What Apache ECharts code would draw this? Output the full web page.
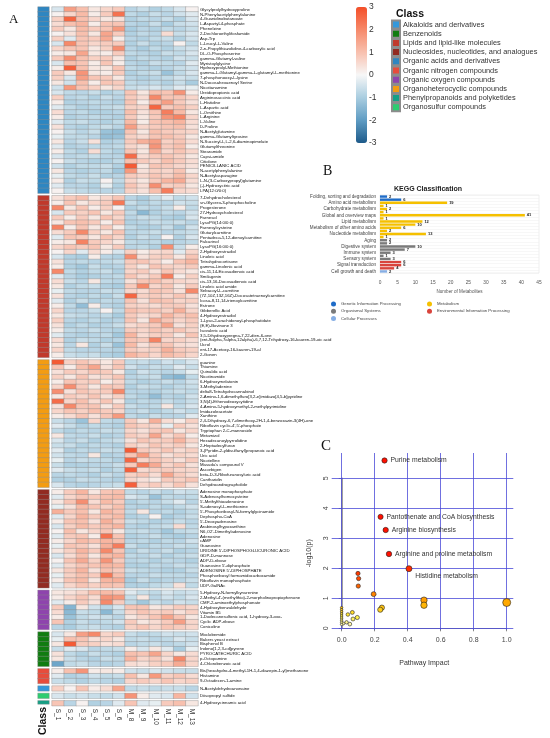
<!DOCTYPE html>
<html>
<head>
<meta charset="utf-8">
<script src="https://cdn.jsdelivr.net/npm/echarts@6/dist/echarts.min.js"></script>
<style>
html, body { margin: 0; padding: 0; background: #fff; }
#chart { width: 550px; height: 738px; }
</style>
</head>
<body>
<div id="chart"></div>
<script>
// ---- panel A : heatmap data ----
var samples = ['S_1', 'S_2', 'S_3', 'S_4', 'S_5', 'S_6', 'M_8', 'M_9', 'M_10', 'M_11', 'M_12', 'M_13'];

var classNames = ['Alkaloids and derivatives', 'Benzenoids', 'Lipids and lipid-like molecules',
    'Nucleosides, nucleotides, and analogues', 'Organic acids and derivatives', 'Organic nitrogen compounds',
    'Organic oxygen compounds', 'Organoheterocyclic compounds', 'Phenylpropanoids and polyketides',
    'Organosulfur compounds'];
var classColors = ['#3498db', '#107c10', '#c0392b', '#922b21', '#2e86c1', '#e74c3c', '#8e44ad', '#f39c12', '#16a085', '#2ecc71'];

var g1Names = ['Glycylprolylhydroxyproline', 'N-Phenylacetylphenylalanine', '4-Guanidinobutanoate', 'L-Aspartyl-4-phosphate',
    'Phenelzine', '2-Dechloroethylifosfamide', 'Asp-Trp', 'L-Leucyl-L-Valine', '2-n-Propylthiazolidine-4-carboxylic acid',
    'DL-O-Phosphoserine', 'gamma-Glutamyl-valine', 'Myristoylglycine', 'Hydroxyprolyl-Methionine',
    'gamma-L-Glutamyl-gamma-L-glutamyl-L-methionine', '7-phosphonooxy-L-lysine', 'N-Docosahexaenoyl Serine',
    'Nicotianamine', 'Ureidopropionic acid', 'Argininosuccinic acid', 'L-Histidine', 'L-Aspartic acid', 'L-Ornithine',
    'L-Arginine', 'L-Valine', 'D-Proline', 'N-Acetylglutamine', 'gamma-Glutamyltyrosine',
    'N-Succinyl-L,L-2,6-diaminopimelate', 'Glutamylthreonine', 'Stearamide', 'Capsi-amide', 'Citiolone',
    'PENICILLANIC ACID', 'N-acetylphenylalanine', 'N-Acetylasparagine', 'L-N-(3-Carboxypropyl)glutamine',
    '(-)-Hydroxycitric acid', 'LPA(12:0/0:0)'];
var g1Values = [
    [-0.4, 1.6, 1.0, 0.3, 0.6, 0.8, -0.8, -0.6, -0.9, -0.7, -0.4, 0.1],
    [0.1, 0.6, 1.1, 0.2, 0.8, 2.4, -0.7, -0.9, -0.6, -0.8, -0.5, -0.3],
    [0.7, 2.6, 1.0, 0.6, 0.3, 0.4, -0.9, -0.7, -0.8, -0.6, -0.9, -0.4],
    [0.5, 1.0, 1.2, 0.2, 0.9, 0.9, -0.8, -0.9, -0.6, -1.0, -0.6, -0.5],
    [0.8, 0.3, 1.1, 0.8, 0.9, 1.7, -1.0, -0.8, -0.9, -0.7, -0.8, -0.6],
    [0.1, 0.4, 1.0, 0.3, 1.5, 0.8, -0.9, -0.7, -0.8, 0.5, -0.6, -0.4],
    [0.7, -0.3, 0.9, 0.8, 1.4, 0.2, -0.8, -0.9, -0.7, -0.6, -0.9, -0.5],
    [-0.4, 2.0, 0.9, 0.6, 0.8, 0.8, -0.9, -0.6, -0.9, -0.8, 0.1, -0.7],
    [0.6, 0.9, 0.9, 0.3, 0.7, 1.9, -0.8, -1.0, -0.7, -0.9, -0.6, -0.5],
    [0.2, 0.3, 1.5, 0.3, 0.2, 0.8, -0.7, -0.8, -0.9, -0.6, -0.7, -0.4],
    [0.8, 1.9, 1.0, 0.7, 0.8, 0.3, -0.9, -0.7, -0.8, -0.9, -0.5, -0.6],
    [-0.4, 1.0, 0.9, 0.2, 0.9, 0.2, -0.8, -0.9, -0.6, -0.7, -0.8, -0.3],
    [0.2, 2.7, 1.0, 0.3, 0.3, 0.9, -0.7, -0.8, -0.9, -0.8, -0.6, -0.5],
    [0.8, 0.3, 1.8, 0.3, 0.2, 0.8, -0.9, -0.7, -0.6, -1.2, -0.7, -0.4],
    [0.7, -0.4, 1.6, 0.9, 0.8, 0.3, -0.8, -0.9, -0.8, -0.7, -0.5, -0.6],
    [0.3, -0.5, 1.0, 0.2, 0.9, 0.8, -0.7, -0.8, -0.7, -0.9, -0.6, -1.0],
    [-0.5, 1.7, 0.9, 0.7, 0.3, 0.6, -0.6, -0.5, -0.4, -0.6, -0.3, -0.2],
    [-0.4, -0.7, -0.8, -0.6, -0.9, -0.7, 0.9, 0.3, 1.0, 0.9, 1.8, 0.2],
    [0.7, -0.8, -0.7, -0.9, -0.6, -0.8, 0.8, 0.5, 2.0, 0.9, 0.9, 0.6],
    [0.2, -0.9, -0.8, -0.7, -0.8, -0.9, 0.9, 0.2, 1.0, 1.6, 0.8, 0.4],
    [-0.3, -0.7, -0.9, -0.8, -0.7, -0.6, 0.7, 0.6, 2.6, 0.8, 1.0, 0.7],
    [0.5, -0.8, -0.7, -0.9, -0.9, -0.8, 1.0, 0.4, 0.9, 2.2, 1.1, 0.3],
    [0.2, -0.9, -0.8, -0.7, -0.8, -0.9, 0.8, 0.3, 0.8, 1.8, 2.1, 0.6],
    [-0.3, -0.7, -0.6, -0.8, -0.9, -0.7, 1.1, 0.2, 0.9, 1.0, 1.2, 0.5],
    [0.4, -0.8, -0.9, -0.7, -0.6, -0.8, 1.6, 0.6, 0.8, 0.9, 1.0, 0.4],
    [0.1, -0.6, -0.8, -0.6, -1.2, -1.3, 0.9, 0.3, 1.0, 0.8, 0.7, 0.6],
    [-0.2, -0.7, -0.7, -0.8, -1.3, -1.2, 0.7, 0.5, 0.9, 1.0, 0.8, 0.3],
    [0.3, -0.8, -0.6, 0.4, -0.9, -0.8, 0.8, 1.3, 1.6, 0.7, 0.9, 0.5],
    [-0.3, -0.9, -0.8, -0.7, -0.8, -0.7, 0.6, 0.4, 1.8, 0.8, 1.0, 0.2],
    [0.2, -0.7, -0.9, 0.5, -0.7, -0.9, 0.9, 0.3, 1.3, 0.6, 0.9, 0.6],
    [-0.4, -0.8, -0.7, -0.6, -0.8, -0.8, 2.5, 0.5, 0.8, 0.9, 0.7, 0.3],
    [0.1, -0.6, -0.8, -0.9, -0.9, -0.7, 1.0, 0.8, 0.6, 1.0, 0.8, 0.5],
    [-0.5, -0.9, -0.7, -0.7, -0.6, -0.9, 2.8, 0.3, 0.9, 0.8, 0.6, 0.4],
    [0.3, -0.8, -0.9, -0.8, -0.7, -1.1, 1.7, 0.4, 0.7, 0.6, 0.9, 0.2],
    [-0.2, -0.7, -0.8, -0.6, -0.9, -0.8, 0.8, 0.6, 0.9, 0.7, 1.1, 0.6],
    [0.2, -0.9, -0.6, -0.7, 0.1, -0.7, 0.6, 0.3, 0.8, 1.2, 1.4, 0.5],
    [-0.3, -0.8, -0.8, -0.9, -0.2, -0.9, 0.9, 0.5, 1.9, 0.7, 0.8, 0.3],
    [0.1, -0.6, -0.7, -0.8, -0.8, -0.8, 0.7, 0.4, 1.0, 2.2, 0.6, 0.5]
];

var g2Names = ['7-Dehydrocholesterol', 'sn-Glycero-3-phosphocholine', 'Progesterone', '27-Hydroxycholesterol', 'Farnesol',
    'LysoPG(14:0/0:0)', 'Farnesylcysteine', 'Glutarylcarnitine', 'Pentadeca-5,12-dienoylcarnitine', 'Falcarinol',
    'LysoPG(16:0/0:0)', '2-Hydroxyestradiol', 'Linoleic acid', 'Tetrahydrocortisone', 'gamma-Linolenic acid',
    'cis-11,14-Eicosadienoic acid', 'Smilagenin', 'cis-13,16-Docosadienoic acid', 'Linoleic acid amide',
    'Sebacoyl-L-carnitine', '(7Z,10Z,13Z,16Z)-Docosatetraenoylcarnitine', 'Icosa-8,11,14-trienoylcarnitine', 'Estrone',
    'Gibberellic Acid', '4-Hydroxyestradiol', '1-Lyso-2-arachidonoyl-phosphatidate', '(E,E)-Bovinone 3',
    'Isovaleric acid', '3,5-Dihydroxypregna-7,22-dien-6-one',
    '(ent-9alpha,7alpha,12alpha)-6,7,12-Trihydroxy-16-kauren-19-oic acid', 'Ucrol',
    'ent-17-Acetoxy-16-kauren-19-al', '2-Gonen'];
var g2Values = [
    [0.4, 0.8, 1.0, 0.3, 0.6, 0.9, -0.8, -1.0, -0.6, -0.3, -0.7, -0.5],
    [0.2, 0.9, 0.3, 0.6, 0.8, 2.3, -0.6, -0.9, -0.7, -0.8, -0.5, -0.6],
    [2.0, 0.3, 0.9, 0.2, 0.7, 0.1, -0.9, -0.7, -0.8, -0.6, 0.2, -0.7],
    [-0.4, 0.8, 0.7, 0.9, 0.3, 0.8, -0.7, -1.4, -0.9, -0.7, -0.8, -0.5],
    [0.8, 0.2, 0.8, 0.3, 0.9, 0.6, -0.8, -0.6, -0.7, -0.9, -1.0, -0.4],
    [0.3, 0.9, 1.0, 0.8, 0.2, 0.9, -0.9, -0.8, -0.6, -0.7, -0.6, -0.8],
    [2.1, 0.2, 0.9, 0.3, 0.8, 0.2, -0.7, -0.9, -0.9, -0.6, -1.1, -0.5],
    [0.5, 0.8, 2.0, 0.7, 0.3, 0.9, -0.8, -0.7, -0.6, -0.8, -0.7, -0.6],
    [-0.3, 0.9, 0.8, 0.3, 0.9, 0.6, -0.9, -0.6, -0.8, 0.1, -0.9, -0.4],
    [0.2, 0.3, 2.1, 0.8, 0.6, 0.3, -0.7, -0.8, -0.7, -0.9, -0.8, -0.7],
    [0.6, 0.9, 0.8, 0.9, 0.3, 0.8, -0.8, -0.7, -0.9, 1.9, -0.6, 0.2],
    [0.1, 0.6, -0.3, 0.5, 0.2, -0.4, 0.7, 0.2, 0.5, 0.6, -0.3, 0.6],
    [-0.4, -0.9, -1.0, 0.2, -0.8, -0.9, 1.9, 0.4, 0.7, 0.8, 0.3, 0.9],
    [0.4, -0.8, -0.7, -0.8, -0.7, -0.6, 0.8, 0.9, 0.6, 0.2, 0.9, 1.2],
    [0.2, -0.9, -1.1, -0.6, -0.9, -0.8, 0.7, 0.3, 0.9, 0.7, 0.6, 0.8],
    [2.0, -0.7, -0.9, -0.7, -0.6, -0.9, 0.6, 0.8, 0.4, 0.9, 0.5, 0.3],
    [-0.3, -0.8, -1.0, -0.9, -0.8, -0.7, 0.9, 0.5, 0.8, 2.2, 0.2, 0.7],
    [0.5, -0.6, -0.8, 0.3, -0.7, -0.8, 0.4, 0.9, 1.0, 0.7, 0.6, 0.5],
    [0.3, -0.9, -0.7, -0.6, -0.9, -1.0, 0.8, 2.0, 0.6, 0.9, 0.3, 0.8],
    [-0.2, -0.7, -0.8, -0.8, -0.6, -0.7, 0.6, 0.5, 0.9, 0.8, 0.4, 2.0],
    [0.4, -0.8, -0.9, -0.7, -0.9, -0.6, 2.6, 0.7, 0.8, 0.6, 0.9, 0.5],
    [-0.3, -0.9, -0.6, -0.9, -0.7, -0.8, 0.9, 0.4, 1.0, 0.9, 0.6, 0.7],
    [0.2, -0.7, -1.3, 0.2, -0.8, -0.9, 0.7, 0.6, 0.5, 0.8, 0.8, 0.4],
    [0.6, -0.8, -0.8, -0.6, 0.1, -0.7, 1.0, 0.8, 0.9, 0.7, 1.3, 0.6],
    [0.3, -0.6, -0.7, -0.8, -0.7, -1.0, 0.8, 0.5, 0.6, 1.2, 0.8, 1.0],
    [0.7, -0.8, -0.9, -0.7, -0.9, -0.8, 0.9, 0.3, 1.4, 0.9, 0.6, 0.8],
    [0.4, -0.9, -0.7, -0.9, -0.8, -0.6, 0.5, 0.7, 0.8, 1.5, 0.4, 0.7],
    [0.2, -0.7, -0.8, -0.6, -0.8, -0.9, 0.8, 0.6, 0.9, 0.7, 0.9, 0.6],
    [-0.3, -0.8, -0.9, -0.8, -0.7, -1.1, 1.2, 0.5, 0.7, 0.8, 0.3, 0.9],
    [0.5, -0.9, -0.6, -0.7, -0.9, -0.8, 0.9, 0.8, 2.1, 0.6, 0.7, 0.5],
    [0.3, -0.8, 0.3, -0.9, -0.6, -1.2, 1.1, 0.4, 0.8, 0.9, 0.5, 0.4],
    [0.6, -0.7, -0.8, -0.8, -0.8, -0.9, 0.8, 0.6, 0.7, 1.3, 0.8, 0.7],
    [0.2, -0.6, -0.7, -0.6, -0.9, -1.0, 1.2, 0.9, 0.6, 1.1, 0.9, 0.6]
];

var g3Names = ['guanine', 'Thiamine', 'Quinaldic acid', 'Nicotinamide', '6-Hydroxymelatonin', '3-Methyladenine',
    'delta8-Tetrahydrocannabinol', '2-Amino-1,6-dimethylfuro[3,2-e]imidazo[4,5-b]pyridine', '3,N(4)-Ethenodeoxycytidine',
    '4-Amino-5-hydroxymethyl-2-methylpyrimidine', 'Imidazoleacetate', 'Xanthine',
    '2,4-Dihydroxy-6,7-dimethoxy-2H-1,4-benzoxazin-3(4H)-one', 'Riboflavin cyclic-4\',5\'-phosphate',
    'Tryptophan 2-C-mannoside', 'Metamizol', 'Hexadecanoylpyrrolidine', '2-Heptadecylfuran',
    '3-(Pyridin-2-yldisulfanyl)propanoic acid', 'Uric acid', 'Nicotelline', 'Masuda\'s compound V', 'Ascorbigen',
    'beta-D-3-Ribofuranosyluric acid', 'Cantharidin', 'Dehydroandrographolide'];
var g3Values = [
    [2.8, 0.7, 0.9, 0.6, 0.3, 0.8, -0.7, -0.6, -0.8, -0.5, -0.7, -0.4],
    [0.9, 0.2, 1.0, 1.5, 0.4, 0.9, -0.5, -0.8, -0.6, -0.7, -0.3, -0.6],
    [0.4, 0.8, 0.6, 0.9, 0.8, 0.3, -0.9, -0.5, -0.7, -0.8, -0.6, -0.2],
    [0.7, 0.3, 0.9, 0.4, 0.6, 0.9, -0.8, -0.7, -0.6, -1.3, -1.5, -0.7],
    [0.2, 0.9, 0.7, 0.8, 0.2, 0.6, -0.7, -0.9, -0.8, -0.6, -0.8, -0.5],
    [0.6, 1.9, 0.8, 0.3, 0.9, 0.8, -0.9, -0.6, -0.7, -0.9, -0.7, -0.6],
    [1.9, 0.4, 0.9, 0.7, 0.8, 2.0, -0.8, -0.8, -0.9, -0.7, -0.6, -0.7],
    [0.3, 0.8, 0.6, 0.9, 0.4, 0.7, -0.7, -0.9, -1.3, -0.8, -0.9, -0.5],
    [2.5, 0.6, 1.0, 0.5, 0.9, 0.3, -0.9, -0.7, -0.8, -0.6, -0.8, -0.6],
    [0.4, 2.0, 0.9, 0.9, 0.3, 0.8, -0.6, -0.8, -0.7, 0.3, -0.7, -0.4],
    [0.6, 0.9, 0.7, 1.0, 0.8, 0.6, -0.8, -0.6, -0.9, -0.7, -0.5, -0.7],
    [0.2, 0.5, 0.9, 0.4, 0.9, 1.7, -0.7, -0.9, -0.6, -0.8, -0.8, -0.3],
    [-0.6, -0.8, -1.2, 0.6, -0.7, -0.8, 0.8, 0.3, 1.3, 0.5, 0.2, 0.7],
    [-0.3, -0.6, -0.9, -0.7, -0.8, -0.9, 0.9, 0.7, 0.6, -0.2, 0.8, 0.4],
    [-0.7, -0.9, -0.7, -0.8, -0.6, -0.7, 0.6, 0.4, 0.8, 0.9, 0.3, 0.6],
    [0.3, -0.7, -0.8, -0.6, -0.9, -0.8, 0.8, 0.6, 1.5, 0.5, 0.9, 0.2],
    [-0.4, -0.8, -0.6, -0.9, -0.7, -0.6, 0.4, 0.9, 0.7, 0.8, 1.2, 0.6],
    [-0.6, -0.6, -0.9, -0.7, -0.8, -0.9, 0.7, 0.5, 0.9, 0.6, 0.8, 0.3],
    [-0.3, -0.9, -0.7, -0.8, -0.6, -0.7, 2.8, 0.8, 0.6, 0.9, 0.5, 0.7],
    [-0.5, -0.7, -0.8, 0.3, -0.9, -0.8, 0.9, 1.7, 0.8, 0.4, 0.7, 0.5],
    [-0.2, -0.8, -0.6, -0.7, -0.7, -0.9, 2.6, 0.6, 0.9, 0.7, 0.4, 0.8],
    [-0.6, -0.9, -0.9, -0.8, -0.8, -0.6, 0.8, 2.2, 1.4, 0.6, 0.9, 0.4],
    [-0.3, -0.6, -0.7, -0.6, -0.9, -0.7, 2.7, 0.5, 0.7, 0.8, 0.6, 0.6],
    [-0.8, -0.7, -0.8, -0.9, -0.6, -0.8, 0.7, 0.9, 0.5, 1.5, 0.8, 0.5],
    [-0.9, -0.9, -0.6, -0.7, -0.8, -0.9, 0.6, 0.4, 0.2, 0.8, 0.7, 0.9],
    [-0.4, -0.8, -0.9, -0.8, -0.7, -0.6, 2.7, 0.6, 0.8, 0.5, 0.9, 0.4]
];

var g4Names = ['Adenosine monophosphate', 'S-Adenosylhomocysteine', '5\'-Methylthioadenosine', 'S-adenosyl-L-methionine',
    '5\'-Phosphoribosyl-N-formylglycinamide', 'Dephospho-CoA', '5\'-Deoxyadenosine', 'Arabinosylhypoxanthine',
    'N6,O2\'-Dimethyladenosine', 'Adenosine', 'cAMP', 'Guanosine', 'URIDINE 5\'-DIPHOSPHOGLUCURONIC ACID',
    'GDP-D-mannose', 'ADP-D-ribose', 'Guanosine 5\'-diphosphate', 'ADENOSINE 5\'-DIPHOSPHATE',
    'Phosphoribosyl formamidocarboxamide', 'Riboflavin monophosphate', 'UDP-GalNAc'];
var g4Values = [
    [0.2, 0.8, 1.2, 0.3, 0.9, 1.0, -0.7, -0.8, -0.6, -0.8, -0.5, -0.6],
    [-0.3, 0.6, 0.9, 0.8, 1.0, 1.1, -0.4, -0.6, -1.2, -0.7, -0.8, -0.7],
    [0.3, 0.9, 1.9, 0.5, 1.1, 0.8, -0.9, -0.7, -0.8, -0.6, -0.3, -0.8],
    [-0.2, 0.4, 1.1, 0.9, 0.7, 1.0, -0.8, -0.9, -0.7, -0.9, -0.7, -0.5],
    [1.3, 0.8, 1.0, 0.3, 1.2, 0.9, -0.7, 0.3, -0.8, -0.7, -0.9, -0.7],
    [-0.3, 0.6, 1.2, 0.8, 0.9, 1.1, -0.9, -0.8, 0.1, -1.0, -0.8, -0.6],
    [0.2, 0.9, 1.0, 0.4, 1.3, 0.8, -0.6, -0.7, -0.9, -0.8, -0.6, -0.8],
    [-0.4, 0.7, 1.1, 0.8, 1.0, 1.2, -0.8, -0.9, -0.7, -0.6, 0.5, -0.7],
    [0.1, 1.0, 0.3, 0.6, 0.9, 0.3, -0.7, -0.6, -0.8, -1.1, -0.7, -0.6],
    [-0.3, 0.8, 0.9, 0.2, 2.4, 0.9, -0.9, -0.8, -0.6, -0.9, -1.0, -0.8],
    [0.2, 0.6, 1.1, 0.9, 1.2, 1.0, -0.8, -0.7, -0.9, -0.7, -0.8, -0.5],
    [-0.2, 0.9, 0.8, 0.4, 1.3, 2.2, -0.6, -0.9, -0.7, -0.8, -0.6, -0.7],
    [0.3, 0.7, 1.2, 0.8, 2.0, 0.9, -0.9, -0.6, -0.8, -0.6, -0.9, -0.8],
    [-0.4, 0.5, 1.0, 0.3, 1.1, 1.2, -0.7, -0.8, -0.6, -0.9, -0.7, -0.6],
    [0.1, 0.9, 1.4, 0.7, 1.8, 0.8, -0.8, -0.7, -0.9, -0.7, -0.8, -0.9],
    [-0.3, 0.6, 0.9, 0.9, 1.2, 1.1, -0.9, -0.9, -0.7, -0.8, -0.6, -0.7],
    [0.3, 0.8, 1.2, 0.4, 1.0, 0.8, -0.6, -0.7, -0.8, -0.9, -0.9, -0.6],
    [-0.2, 0.7, 1.0, 0.8, 2.3, 1.0, -0.8, -0.8, -0.6, -0.7, -0.7, -0.8],
    [0.2, 0.9, 1.1, 0.3, 1.2, 1.3, -1.0, -0.6, -0.9, -0.8, -0.8, -0.6],
    [-0.3, 0.6, 0.9, 0.7, 1.0, 0.9, -0.9, -0.9, -0.7, -0.6, 0.4, -0.7]
];

var g5Names = ['5-Hydroxy-N-formylkynurenine', '2-Methyl-4\'-(methylthio)-2-morpholinopropiophenone',
    'CMP-2-aminoethylphosphonate', '4-Hydroxybenzaldehyde', 'Vitamin B5', '1-Dodecanesulfonic acid, 1-hydroxy-3-oxo-',
    'Cyclic ADP-ribose', 'Conicoline'];
var g5Values = [
    [0.3, 0.4, 0.6, 1.0, 1.1, 0.9, -0.3, -0.6, -0.7, -0.4, -0.6, -0.5],
    [0.2, 0.6, 0.9, 0.5, 1.8, 1.7, -0.6, 0.3, -0.8, -0.5, -0.7, -0.4],
    [-0.3, 0.2, 0.8, 0.4, 2.0, 0.8, -0.7, -1.1, -0.6, -0.8, -0.5, -0.6],
    [0.8, -1.5, 0.3, -0.5, -0.8, -0.4, 0.9, 0.9, 0.3, 0.5, 0.8, 0.6],
    [0.5, -1.4, -0.6, -0.7, -1.4, -0.6, 0.6, 0.9, 0.7, 0.8, 0.4, 0.7],
    [0.2, -1.2, -0.7, -0.5, -0.6, -0.8, 0.3, 0.6, 0.9, 1.5, 0.9, 0.3],
    [0.9, -0.9, -0.6, -0.8, -0.7, -0.5, 0.8, 0.3, 0.5, 0.8, 1.6, 0.6],
    [-0.8, -1.0, -0.7, -0.6, -0.8, -0.9, 0.7, 0.9, 0.6, 0.9, 0.8, 0.6]
];

var g6Names = ['Moclobemide', 'Bakers yeast extract', 'Bisphenol B', 'Indeno[1,2,3-cd]pyrene', 'PYROCATECHURIC ACID',
    'p-Octopamine', '4-Chlorobenzoic acid'];
var g6Values = [
    [-0.4, 0.3, 1.6, 2.0, 0.6, 0.8, -0.6, -0.8, -0.7, -0.5, -0.6, -0.5],
    [-0.2, 1.0, 0.9, 0.4, 0.6, 0.3, -0.7, -0.6, -0.8, -0.7, -0.4, -0.6],
    [0.3, 2.8, 0.8, 0.7, 0.4, 0.5, -0.8, -0.7, -0.6, -0.8, -0.7, -0.5],
    [-0.6, -0.3, -0.4, -0.8, -0.7, -0.6, 0.2, -0.4, 0.3, -0.3, -1.0, -0.2],
    [0.4, -0.7, -0.9, -0.6, -0.8, -0.9, 1.0, 0.9, 1.5, 0.6, 0.3, 0.5],
    [0.3, -0.6, -0.8, -0.9, -0.6, -0.7, 1.2, 0.6, 0.8, 0.4, 2.0, 0.6],
    [-1.8, -0.7, -0.6, -0.8, -0.9, -0.8, 0.5, 0.4, 0.7, 0.8, 1.4, 0.6]
];

var g7Names = ['Bis(hexahydro-4-methyl-1H-1,4-diazepin-1-yl)methanone', 'Histamine', '9-Octadecen-1-amine'];
var g7Values = [
    [0.2, 1.0, 1.8, 0.2, 0.3, 0.2, -0.5, -0.6, -0.4, -0.5, -0.6, -0.6],
    [-0.3, -0.9, -0.8, -0.5, -0.7, -0.6, 1.0, 0.3, 1.7, 0.7, 0.9, 0.5],
    [-0.6, -0.7, -0.9, -0.7, -0.8, -0.9, 0.6, 0.8, 0.6, 0.9, 0.6, 0.7]
];

var g8Names = ['N-Acetyldehydroanonaine'];
var g8Values = [[0.7, 0.1, 0.9, 0.2, 0.5, 1.5, -0.7, -0.6, -0.7, -0.6, -0.6, -0.8]];

var g9Names = ['Diisopropyl sulfide'];
var g9Values = [[-0.4, -0.6, -0.5, -0.6, -0.7, -0.5, 1.8, 0.2, -0.3, -0.4, 1.2, -0.5]];

var g10Names = ['4-Hydroxycinnamic acid'];
var g10Values = [[0.9, -0.8, 0.1, -0.9, -0.8, -0.3, 0.9, -0.3, -0.2, 0.8, 1.0, 0.3]];

// class of each block, as index into classNames
var groupClass = [4, 2, 7, 3, 6, 1, 5, 0, 9, 8];
var scaleTicks = [-3, -2, -1, 0, 1, 2, 3];

// ---- panel B : KEGG classification ----
var keggLabels = ['Folding, sorting and degradation', '', 'Amino acid metabolism', '', 'Carbohydrate metabolism', '',
    'Global and overview maps', '', 'Lipid metabolism', '', 'Metabolism of other amino acids', '',
    'Nucleotide metabolism', '', 'Aging', '', 'Digestive system', '', 'Immune system', '', 'Sensory system', '',
    'Signal transduction', '', 'Cell growth and death'];
var keggCounts = [2, 6, 19, 1, 2, 1, 41, 1, 12, 10, 6, 2, 13, 1, 2, 2, 10, 7, 3, 1, 3, 6, 6, 4, 2];
var keggClass = [0, 0, 1, 1, 1, 1, 1, 1, 1, 1, 1, 1, 1, 1, 2, 2, 2, 2, 2, 2, 2, 3, 3, 3, 4];
var keggGroups = ['Genetic Information Processing', 'Metabolism', 'Organismal Systems',
    'Environmental Information Processing', 'Cellular Processes'];
var keggColors = ['#1f6cc8', '#f5c000', '#7a7a7a', '#d9443c', '#86aee4'];

// ---- panel C : pathway analysis ----
var pathNames = ['Purine metabolism', 'Pantothenate and CoA biosynthesis', 'Arginine biosynthesis',
    'Arginine and proline metabolism', 'Histidine metabolism', '', '', '', '', '', '', '', '', '', '', '', '', '', '',
    '', '', '', '', '', '', '', '', '', '', ''];
var pathImpact = [0.26, 0.236, 0.267, 0.287, 0.408, 0.099, 0.103, 0.101, 0.194, 0.499, 0.499, 1.0, 0.244, 0.234,
    0.065, 0.038, 0.095, 0.069, 0.03, 0.05, 0.01, 0, 0, 0, 0, 0, 0, 0, 0, 0];
var pathLogP = [5.6, 3.72, 3.28, 2.48, 1.99, 1.83, 1.66, 1.41, 1.14, 0.94, 0.77, 0.86, 0.69, 0.62,
    0.53, 0.46, 0.36, 0.31, 0.2, 0.14, 0.16, 0.69, 0.62, 0.55, 0.48, 0.41, 0.34, 0.27, 0.2, 0.13];
var impactTicks = [0, 0.2, 0.4, 0.6, 0.8, 1.0];
var logpTicks = [0, 1, 2, 3, 4, 5];

(function () {
    var FONT = '"Liberation Sans", Arial, sans-serif';
    var SERIF = '"Liberation Serif", "Times New Roman", serif';
    var groups = [
        [g1Names, g1Values], [g2Names, g2Values], [g3Names, g3Values], [g4Names, g4Values], [g5Names, g5Values],
        [g6Names, g6Values], [g7Names, g7Values], [g8Names, g8Values], [g9Names, g9Values], [g10Names, g10Values]
    ];
    var rowH = 4.9, gapH = 2.5, topY = 7;
    var nG = groups.length;
    var grid = [], xAxis = [], yAxis = [], series = [];
    var tops = [], y = topY;
    groups.forEach(function (g) {
        tops.push(y);
        y += g[0].length * rowH + gapH;
    });

    // value heatmaps
    var heatSeries = [];
    groups.forEach(function (g, i) {
        var names = g[0], vals = g[1];
        grid.push({ left: 52, width: 146, top: tops[i], height: names.length * rowH });
        xAxis.push({
            type: 'category', gridIndex: i, data: samples, show: i === nG - 1,
            axisLine: { show: false }, axisTick: { show: false },
            axisLabel: { rotate: -90, fontSize: 6.5, color: '#333', margin: 3, interval: 0, fontFamily: FONT }
        });
        yAxis.push({
            type: 'category', gridIndex: i, data: names, inverse: true, position: 'right',
            axisLine: { show: false }, axisTick: { show: false },
            axisLabel: { fontSize: 4.3, color: '#111', margin: 2, interval: 0, fontFamily: FONT }
        });
        var data = [];
        vals.forEach(function (row, r) {
            row.forEach(function (v, c) { data.push([c, r, v]); });
        });
        heatSeries.push(series.length);
        series.push({
            type: 'heatmap', xAxisIndex: i, yAxisIndex: i, data: data,
            itemStyle: { borderColor: '#8c8c8c', borderWidth: 0.4 },
            emphasis: { disabled: true }
        });
    });

    // class annotation bars
    groups.forEach(function (g, i) {
        var k = groupClass[i];
        var gi = grid.length;
        grid.push({ left: 38, width: 11, top: tops[i], height: g[0].length * rowH });
        xAxis.push({
            type: 'category', gridIndex: gi, data: ['Class'], show: i === nG - 1,
            axisLine: { show: false }, axisTick: { show: false },
            axisLabel: { rotate: 90, fontSize: 10.5, fontWeight: 'bold', color: '#111', margin: 3, fontFamily: FONT }
        });
        yAxis.push({ type: 'category', gridIndex: gi, data: g[0], inverse: true, show: false });
        series.push({
            type: 'heatmap', name: classNames[k], xAxisIndex: gi, yAxisIndex: gi,
            data: g[0].map(function (n, r) { return [0, r, 1]; }),
            itemStyle: { color: classColors[k], borderColor: '#8c8c8c', borderWidth: 0.4 },
            emphasis: { disabled: true }
        });
    });

    // colour scale tick labels
    var scaleGrid = grid.length;
    grid.push({ left: 356, top: 7, width: 11, height: 136 });
    xAxis.push({ type: 'value', gridIndex: scaleGrid, show: false });
    yAxis.push({
        type: 'value', gridIndex: scaleGrid, min: scaleTicks[0], max: scaleTicks[scaleTicks.length - 1], interval: 1,
        position: 'right', axisLine: { show: false }, axisTick: { show: false }, splitLine: { show: false },
        axisLabel: { fontSize: 8.5, color: '#333', margin: 2, fontFamily: FONT }
    });

    // KEGG bars
    var keggGrid = grid.length;
    grid.push({ left: 380, right: 11, top: 195, height: 78, show: true, borderColor: '#dcdcdc', borderWidth: 0.5 });
    xAxis.push({
        type: 'value', gridIndex: keggGrid, min: 0, max: 45, interval: 5,
        axisLine: { show: false }, axisTick: { show: false }, splitLine: { show: false },
        axisLabel: { fontSize: 4.8, color: '#555', margin: 7, fontFamily: FONT },
        name: 'Number of Metabolites', nameLocation: 'middle', nameGap: 16,
        nameTextStyle: { fontSize: 4.6, color: '#555', fontFamily: FONT }
    });
    yAxis.push({
        type: 'category', gridIndex: keggGrid, inverse: true,
        data: keggLabels.map(function (l, i) { return String(i); }),
        axisLine: { show: false }, axisTick: { show: false },
        splitLine: { show: true, lineStyle: { color: '#efefef', width: 0.5 } },
        axisLabel: {
            interval: 0, fontSize: 4.6, color: '#444', margin: 4, fontFamily: FONT,
            formatter: function (v) { return keggLabels[+v]; }
        }
    });
    keggGroups.forEach(function (name, k) {
        series.push({
            type: 'bar', name: name, xAxisIndex: keggGrid, yAxisIndex: keggGrid, stack: 'kegg',
            barWidth: 2.4, itemStyle: { color: keggColors[k] },
            data: keggCounts.map(function (c, i) { return keggClass[i] === k ? c : '-'; }),
            label: {
                show: true, position: 'right', distance: 2, fontSize: 4, fontWeight: 'bold', color: '#222',
                fontFamily: FONT
            }
        });
    });

    // pathway scatter (plot region) and R-style axes
    var scatGrid = grid.length;
    grid.push({ left: 331.7, width: 181.6, top: 453, height: 176.8 });
    xAxis.push({ type: 'value', gridIndex: scatGrid, min: -0.06, max: 1.04, show: false });
    yAxis.push({ type: 'value', gridIndex: scatGrid, min: -0.05, max: 5.85, show: false });
    var axGrid = grid.length;
    grid.push({ left: 341.7, width: 165, top: 478.3, height: 150 });
    xAxis.push({
        type: 'value', gridIndex: axGrid, min: 0, max: 1, interval: 0.2, offset: 2,
        axisLine: { show: true, lineStyle: { color: '#888', width: 1 } },
        axisTick: { show: true, length: 3, lineStyle: { color: '#888' } },
        splitLine: { show: false },
        axisLabel: { fontSize: 7, color: '#444', margin: 6, fontFamily: FONT,
            formatter: function (v) { return v.toFixed(1); } },
        name: 'Pathway Impact', nameLocation: 'middle', nameGap: 29,
        nameTextStyle: { fontSize: 7, color: '#333', fontFamily: FONT }
    });
    yAxis.push({
        type: 'value', gridIndex: axGrid, min: 0, max: 5, interval: 1, offset: 7,
        axisLine: { show: true, lineStyle: { color: '#888', width: 1.6 } },
        axisTick: { show: true, length: 3, lineStyle: { color: '#888' } },
        splitLine: { show: false },
        axisLabel: { rotate: 90, fontSize: 7, color: '#444', margin: 5, fontFamily: FONT },
        name: '-log10(p)', nameLocation: 'middle', nameRotate: 90, nameGap: 22,
        nameTextStyle: { fontSize: 7, color: '#333', fontFamily: FONT }
    });
    var scatIndex = series.length;
    series.push({
        type: 'scatter', xAxisIndex: scatGrid, yAxisIndex: scatGrid, z: 3,
        data: pathImpact.map(function (x, i) { return { value: [x, pathLogP[i]], name: pathNames[i] }; }),
        symbolSize: function (v) { return 2.5 + 5.5 * Math.sqrt(v[0]); },
        itemStyle: { borderColor: '#222', borderWidth: 0.6, opacity: 1 },
        label: {
            show: true, position: 'right', distance: 3, fontSize: 6.8, color: '#333', fontFamily: FONT,
            formatter: function (p) { return p.name; }
        },
        labelLayout: function (p) {
            var d = p.dataIndex;
            if (pathNames[d] === 'Histidine metabolism') { return { dy: 7 }; }
            return {};
        },
        markLine: {
            silent: true, symbol: 'none', z: 1, animation: false,
            label: { show: false },
            lineStyle: { color: '#4b4bd8', type: 'solid', width: 0.8 },
            data: impactTicks.map(function (v) { return { xAxis: v }; })
                .concat(logpTicks.map(function (v) { return { yAxis: v }; }))
        }
    });

    var myChart = echarts.init(document.getElementById('chart'), null, { renderer: 'canvas' });
    myChart.setOption({
        animation: false,
        backgroundColor: '#fff',
        textStyle: { fontFamily: FONT },
        title: [
            { text: 'A', left: 4, top: 8, textStyle: { fontFamily: SERIF, fontSize: 13, fontWeight: 'normal', color: '#111' } },
            { text: 'Class', left: 391, top: 4, textStyle: { fontFamily: FONT, fontSize: 10.5, fontWeight: 'bold', color: '#111' } },
            { text: 'B', left: 318, top: 159, textStyle: { fontFamily: SERIF, fontSize: 14, fontWeight: 'normal', color: '#111' } },
            { text: 'KEGG Classification', left: 423, top: 181, textAlign: 'center',
                textStyle: { fontFamily: FONT, fontSize: 7, fontWeight: 'bold', color: '#222' } },
            { text: 'C', left: 316, top: 434, textStyle: { fontFamily: SERIF, fontSize: 15, fontWeight: 'normal', color: '#111' } }
        ],
        legend: [
            {
                orient: 'vertical', left: 391, top: 19.5, icon: 'rect', itemWidth: 8, itemHeight: 8, itemGap: -0.8,
                padding: 0, selectedMode: false,
                textStyle: { fontSize: 7.4, color: '#333', fontFamily: FONT, padding: [0, 0, 0, -2] },
                data: classNames.map(function (n, k) { return { name: n, itemStyle: { color: classColors[k] } }; })
            },
            {
                orient: 'vertical', left: 331, top: 301.5, icon: 'circle', itemWidth: 5, itemHeight: 5, itemGap: 2.2,
                padding: 0, selectedMode: false,
                textStyle: { fontSize: 4.3, color: '#444', fontFamily: FONT },
                data: [0, 2, 4].map(function (k) { return { name: keggGroups[k], itemStyle: { color: keggColors[k] } }; })
            },
            {
                orient: 'vertical', left: 427, top: 301.5, icon: 'circle', itemWidth: 5, itemHeight: 5, itemGap: 2.2,
                padding: 0, selectedMode: false,
                textStyle: { fontSize: 4.3, color: '#444', fontFamily: FONT },
                data: [1, 3].map(function (k) { return { name: keggGroups[k], itemStyle: { color: keggColors[k] } }; })
            }
        ],
        visualMap: [
            {
                type: 'continuous', seriesIndex: heatSeries, min: -3, max: 3, calculable: false,
                left: 356, top: 7, itemWidth: 11, itemHeight: 136, padding: 0,
                inRange: { color: ['#1d5a8a', '#5f9cc3', '#a9cde0', '#f7f7f7', '#f8c0ae', '#f6896a', '#f44f28'] }
            },
            {
                type: 'continuous', show: false, seriesIndex: scatIndex, dimension: 1, min: 0, max: 2.4,
                inRange: { color: ['#fffbe0', '#fff040', '#ffb000', '#ff7a00', '#ff5000', '#ff2a00', '#ff1000'] }
            }
        ],
        grid: grid,
        xAxis: xAxis,
        yAxis: yAxis,
        series: series
    });
})();
</script>
</body>
</html>
